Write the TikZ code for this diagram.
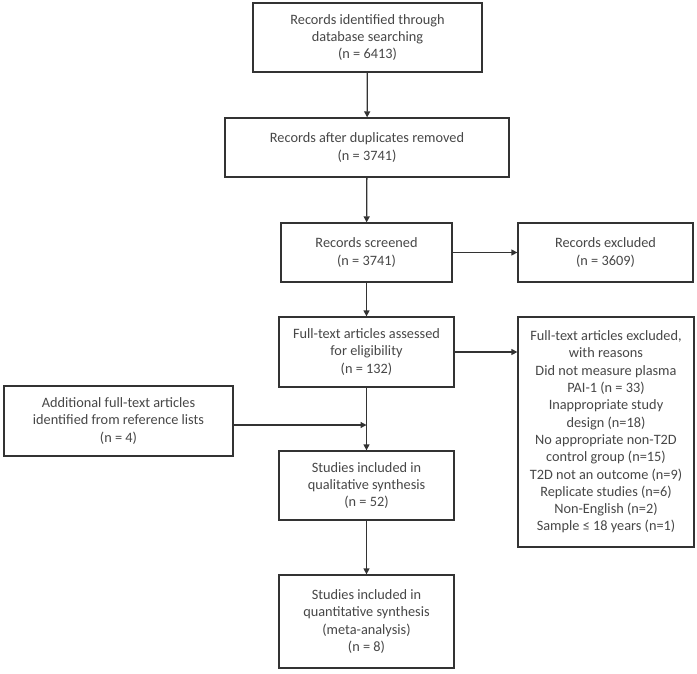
\documentclass[tikz,border=0pt]{standalone}
\usepackage{fontspec}
\setmainfont{Carlito}
\usetikzlibrary{arrows.meta}
\usetikzlibrary{shapes,positioning}
\colorlet{background}{white}
\colorlet{penColor}{black!80}
\colorlet{textColor}{black!72}
\tikzset{>={Triangle[length=6pt,width=6pt]}}
\tikzset{box/.style={draw=penColor,line width=1.3pt,align=center,inner sep=0pt,
    text=textColor,font=\fontsize{14.3}{17.3}\selectfont}}
\tikzset{flow/.style={->,draw=penColor,line width=1.3pt}}

\begin{document}
\begin{tikzpicture}[x=1pt,y=-1pt]
    \useasboundingbox[fill=background] (0,0) rectangle (697,673);
    % main column
    \node[box,minimum width=229pt,minimum height=69pt] (ident) at (367.5,37.5)
        {Records identified through\\database searching\\(n = 6413)};
    \node[box,minimum width=284pt,minimum height=59pt] (dup) at (367,147.5)
        {Records after duplicates removed\\(n = 3741)};
    \node[box,minimum width=171pt,minimum height=59pt] (screen) at (366.5,252.5)
        {Records screened\\(n = 3741)};
    \node[box,minimum width=175pt,minimum height=70pt] (full) at (366.5,352)
        {Full-text articles assessed\\for eligibility\\(n = 132)};
    \node[box,minimum width=175pt,minimum height=69pt] (qual) at (366.5,485.5)
        {Studies included in\\qualitative synthesis\\(n = 52)};
    \node[box,minimum width=175pt,minimum height=93pt] (quant) at (366.5,621.5)
        {Studies included in\\quantitative synthesis\\(meta-analysis)\\(n = 8)};
    % side boxes
    \node[box,minimum width=175pt,minimum height=59pt] (excl) at (605.5,252.5)
        {Records excluded\\(n = 3609)};
    \node[box,minimum width=176pt,minimum height=230pt] (fullexcl) at (606,432)
        {Full-text articles excluded,\\with reasons\\Did not measure plasma\\PAI-1 (n = 33)\\
         Inappropriate study\\design (n=18)\\No appropriate non-T2D\\control group (n=15)\\
         T2D not an outcome (n=9)\\Replicate studies (n=6)\\Non-English (n=2)\\Sample ≤ 18 years (n=1)};
    \node[box,minimum width=229pt,minimum height=70pt] (addl) at (118.5,421)
        {Additional full-text articles\\identified from reference lists\\(n = 4)};
    % arrows
    \draw[flow] (ident) -- (dup);
    \draw[flow] (dup) -- (screen);
    \draw[flow] (screen) -- (excl);
    \draw[flow] (screen) -- (full);
    \draw[flow] (full.east) -- (full.east -| fullexcl.west);
    \draw[flow] (full) -- (qual);
    \draw[flow] ([yshift=-4pt]addl.east) -- ([yshift=-4pt]addl.east -| full.south);
    \draw[flow] (qual) -- (quant);
\end{tikzpicture}
\end{document}
